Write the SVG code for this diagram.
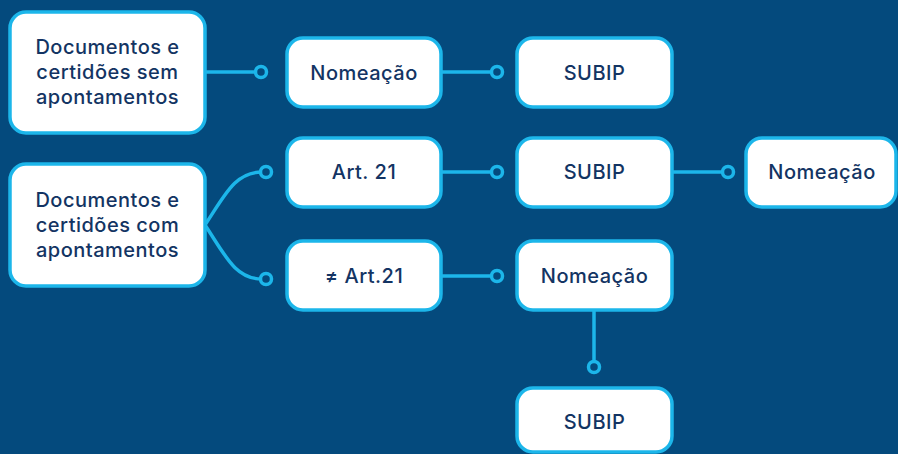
<svg xmlns="http://www.w3.org/2000/svg" width="898" height="454" viewBox="0 0 898 454">
<defs>
<style>
.box{fill:#ffffff;stroke:#1cb6ea;stroke-width:3.5}
.t{font-family:Inter,"Open Sans","Liberation Sans",sans-serif;font-size:20px;font-weight:500;fill:#133463;text-anchor:middle;dominant-baseline:central;letter-spacing:0.5px}
.c{fill:none;stroke:#1cb6ea;stroke-width:3.5}
.dot{fill:#044a7d;stroke:#1cb6ea;stroke-width:3.5}
</style>
</defs>
<rect width="898" height="454" fill="#044a7d"/>
<g id="connectors">
<path class="c" d="M205 72 H261"/>
<circle class="dot" cx="261" cy="72" r="5.5"/>
<path class="c" d="M441 72 H497"/>
<circle class="dot" cx="497" cy="72" r="5.5"/>
<path class="c" d="M205 225 C225 195 235 172 262 172 H266"/>
<circle class="dot" cx="266" cy="172" r="5.5"/>
<path class="c" d="M205 225 C225 255 235 279 262 279 H266"/>
<circle class="dot" cx="266" cy="279" r="5.5"/>
<path class="c" d="M441 172 H497"/>
<circle class="dot" cx="497" cy="172" r="5.5"/>
<path class="c" d="M672 172 H728"/>
<circle class="dot" cx="728" cy="172" r="5.5"/>
<path class="c" d="M441 276 H497"/>
<circle class="dot" cx="497" cy="276" r="5.5"/>
<path class="c" d="M594 310 V367"/>
<circle class="dot" cx="594" cy="367" r="5.5"/>
</g>
<g id="n1"><rect class="box" x="10" y="12" width="195" height="121" rx="16"/>
<text class="t" x="107.5" y="47">Documentos e</text><text class="t" x="107.5" y="72">certidões sem</text><text class="t" x="107.5" y="97">apontamentos</text></g>
<g id="n2"><rect class="box" x="287" y="38" width="154" height="69" rx="16"/><text class="t" x="364" y="73">Nomeação</text></g>
<g id="n3"><rect class="box" x="517" y="38" width="155" height="69" rx="16"/><text class="t" x="594.5" y="73">SUBIP</text></g>
<g id="n4"><rect class="box" x="10" y="164" width="195" height="122" rx="16"/>
<text class="t" x="107.5" y="200">Documentos e</text><text class="t" x="107.5" y="225">certidões com</text><text class="t" x="107.5" y="250">apontamentos</text></g>
<g id="n5"><rect class="box" x="287" y="138" width="154" height="69" rx="16"/><text class="t" x="364" y="172">Art. 21</text></g>
<g id="n6"><rect class="box" x="517" y="138" width="155" height="69" rx="16"/><text class="t" x="594.5" y="172">SUBIP</text></g>
<g id="n7"><rect class="box" x="746" y="138" width="150" height="69" rx="16"/><text class="t" x="822" y="172">Nomeação</text></g>
<g id="n8"><rect class="box" x="287" y="241" width="154" height="69" rx="16"/><text class="t" x="364" y="276">≠ Art.21</text></g>
<g id="n9"><rect class="box" x="517" y="241" width="155" height="69" rx="16"/><text class="t" x="594.5" y="276">Nomeação</text></g>
<g id="n10"><rect class="box" x="517" y="388" width="155" height="64" rx="16"/><text class="t" x="594.5" y="422">SUBIP</text></g>
</svg>
